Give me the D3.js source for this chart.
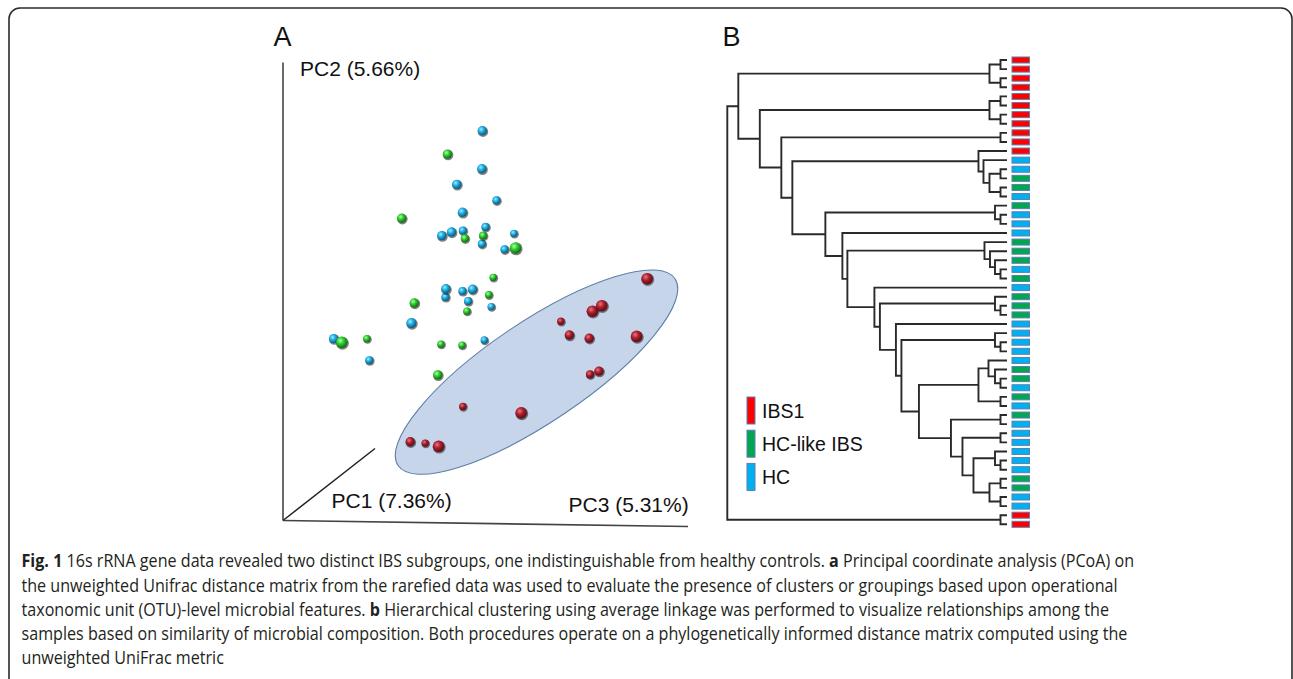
<!DOCTYPE html>
<html>
<head>
<meta charset="utf-8">
<script src="https://cdn.jsdelivr.net/npm/d3@7/dist/d3.min.js"></script>
<style>
  html, body { margin: 0; padding: 0; background: #fff; }
  svg { display: block; }
</style>
</head>
<body>
<div id="figure"></div>
<script>
// PCoA (panel A): projected position [u, v] in arbitrary units + depth (0 far .. 1 near)
const ibs1Points = [
  [89.9, 52.8, 1], [76.4, 45.7, 1], [78.7, 46.9, 1], [68.6, 43.5, 0.15],
  [70.7, 40.5, 0.55], [75.6, 39.8, 0.55], [87.3, 40.2, 1], [75.8, 31.9, 0.3],
  [78.0, 32.6, 0.55], [44.4, 24.9, 0.15], [58.8, 23.5, 1], [31.4, 17.2, 0.55],
  [35.1, 16.9, 0.15], [38.4, 16.2, 1]
];
const hcLikePoints = [
  [40.6, 80.0, 0.55], [29.3, 66.0, 0.55], [44.9, 61.6, 0.3], [49.4, 62.2, 0.3],
  [57.4, 59.5, 1], [51.9, 53.1, 0.15], [50.8, 49.3, 0.15], [45.4, 45.7, 0.15],
  [32.4, 47.5, 0.55], [14.5, 38.9, 1], [20.7, 39.7, 0.15], [39.0, 38.5, 0.15],
  [44.2, 38.3, 0.15], [38.2, 31.8, 0.55]
];
const hcPoints = [
  [49.2, 85.1, 0.55], [49.1, 76.8, 0.55], [42.9, 73.4, 0.55], [52.7, 69.9, 0.3],
  [44.3, 67.3, 0.55], [50.0, 64.1, 0.3], [39.2, 62.2, 0.55], [41.6, 63.0, 0.55],
  [44.4, 63.3, 0.3], [57.0, 62.7, 0.15], [49.1, 60.4, 0.3], [54.7, 59.2, 0.3],
  [40.2, 50.6, 0.55], [40.1, 48.8, 0.3], [44.3, 50.1, 0.3], [46.8, 50.5, 0.55],
  [45.7, 47.9, 0.3], [51.4, 46.7, 0.15], [31.7, 43.1, 0.7], [12.5, 39.7, 0.55],
  [21.3, 35.0, 0.3], [49.7, 39.4, 0.15]
];
// IBS1 cluster ellipse centre [u, v]
const clusterCentre = [62.6, 32.4];
const axisLabels = ["PC2 (5.66%)", "PC1 (7.36%)", "PC3 (5.31%)"];

// Dendrogram (panel B): leaf groups top to bottom, R = IBS1, G = HC-like IBS, B = HC
const leafGroups = [
  "R", "R", "R", "R", "R", "R", "R", "R", "R", "R", "R",
  "B", "B", "G", "G", "B", "G", "B", "B", "B", "G", "G", "G", "B", "G", "B",
  "G", "G", "G", "B", "B", "B", "B", "B", "G", "G", "B", "G", "B", "G", "B",
  "B", "B", "B", "B", "B", "G", "G", "B", "B", "R", "R"
];
// merges: [height, left, right], leaves are indices into leafGroups
const clusterA = [0.035, [0.013, 0, 1], [0.013, 2, 3]];
const clusterB = [0.035, [0.013, 4, 5], [0.013, 6, 7]];
const clusterC = [0.057, 10, [0.047, 11, [0.035, [0.013, 12, 13], [0.013, 14, 15]]]];
const clusterD = [0.024, 16, [0.013, 17, 18]];
const clusterE = [0.045, 20, [0.034, 21, [0.024, 22, [0.013, 23, 24]]]];
const clusterF = [0.024, 26, [0.013, 27, 28]];
const clusterG = [0.024, 30, [0.013, 31, 32]];
const clusterH = [0.057, [0.037, 33, [0.024, 34, [0.013, 35, 36]]], [0.013, 37, 38]];
const clusterI = [0.112, [0.013, 39, 40],
  [0.089, [0.013, 41, 42], [0.067, [0.024, 43, [0.013, 44, 45]], [0.035, [0.013, 46, 47], [0.013, 48, 49]]]]];
const treeMerges =
  [0.559,
    [0.537, clusterA,
      [0.494, clusterB,
        [0.451, [0.013, 8, 9],
          [0.429, clusterC,
            [0.363, clusterD,
              [0.329, 19,
                [0.319, clusterE,
                  [0.265, 25,
                    [0.254, clusterF,
                      [0.222, 29,
                        [0.211, clusterG,
                          [0.176, clusterH, clusterI]]]]]]]]]]]],
    [0.013, 50, 51]];

const groupNames = ["IBS1", "HC-like IBS", "HC"];
const groupKeys = ["R", "G", "B"];

const captionLines = [
  [["Fig. 1", true], [" 16s rRNA gene data revealed two distinct IBS subgroups, one indistinguishable from healthy controls. ", false], ["a", true], [" Principal coordinate analysis (PCoA) on", false]],
  [["the unweighted Unifrac distance matrix from the rarefied data was used to evaluate the presence of clusters or groupings based upon operational", false]],
  [["taxonomic unit (OTU)-level microbial features. ", false], ["b", true], [" Hierarchical clustering using average linkage was performed to visualize relationships among the", false]],
  [["samples based on similarity of microbial composition. Both procedures operate on a phylogenetically informed distance matrix computed using the", false]],
  [["unweighted UniFrac metric", false]]
];

const W = 1293, H = 679;
const FONT = "'Liberation Sans', Arial, sans-serif";

const svg = d3.select("#figure").append("svg")
  .attr("width", W)
  .attr("height", H);

// outer frame
svg.append("rect")
  .attr("x", 9).attr("y", 8)
  .attr("width", 1283).attr("height", 690)
  .attr("rx", 11)
  .attr("fill", "none")
  .attr("stroke", "#2b2b2b")
  .attr("stroke-width", 1.6);

const sphereColors = {
  R: ["#e27a85", "#b01f2e", "#5c0a14"],
  G: ["#b4ffb0", "#2dcc2d", "#0e6a10"],
  B: ["#a6e8ff", "#1cb0e6", "#0a5878"]
};

const defs = svg.append("defs");
Object.entries(sphereColors).forEach(([k, c]) => {
  const grad = defs.append("radialGradient")
    .attr("id", "sphere-" + k)
    .attr("cx", "38%").attr("cy", "35%").attr("r", "65%");
  grad.append("stop").attr("offset", "0%").attr("stop-color", c[0]);
  grad.append("stop").attr("offset", "45%").attr("stop-color", c[1]);
  grad.append("stop").attr("offset", "100%").attr("stop-color", c[2]);
});

// ---------- panel A ----------
const px = d3.scaleLinear().domain([0, 100]).range([283, 688]);
const py = d3.scaleLinear().domain([0, 100]).range([520.5, 62.5]);
const pr = d3.scaleLinear().domain([0, 1]).range([3.3, 5.8]);

const gA = svg.append("g");

gA.append("text")
  .attr("x", 273.5).attr("y", 46)
  .style("font-family", FONT).style("font-size", "27px")
  .attr("fill", "#111")
  .text("A");

const origin = [px(0), py(0)];
gA.append("line")
  .attr("x1", origin[0]).attr("y1", origin[1])
  .attr("x2", px(0)).attr("y2", py(100))
  .attr("stroke", "#444").attr("stroke-width", 1.6);
gA.append("line")
  .attr("x1", origin[0]).attr("y1", origin[1])
  .attr("x2", px(100)).attr("y2", origin[1] + 6)
  .attr("stroke", "#444").attr("stroke-width", 1.6);
gA.append("line")
  .attr("x1", origin[0]).attr("y1", origin[1])
  .attr("x2", origin[0] + 92).attr("y2", origin[1] - 72)
  .attr("stroke", "#222").attr("stroke-width", 1.5);

const labelPos = [[300, 76], [331.5, 507.5], [568.5, 511.5]];
axisLabels.forEach((t, idx) => {
  gA.append("text")
    .attr("x", labelPos[idx][0]).attr("y", labelPos[idx][1])
    .style("font-family", FONT).style("font-size", "21px")
    .attr("fill", "#111")
    .text(t);
});

gA.append("ellipse")
  .attr("transform", `translate(${px(clusterCentre[0])},${py(clusterCentre[1])}) rotate(-34)`)
  .attr("rx", 167).attr("ry", 50)
  .attr("fill", "#c6d5ea")
  .attr("stroke", "#5d7ea6")
  .attr("stroke-width", 1.1);

const allPoints = []
  .concat(hcPoints.map((d) => ({ u: d[0], v: d[1], z: d[2], g: "B" })))
  .concat(hcLikePoints.map((d) => ({ u: d[0], v: d[1], z: d[2], g: "G" })))
  .concat(ibs1Points.map((d) => ({ u: d[0], v: d[1], z: d[2], g: "R" })))
  .sort((a, b) => a.z - b.z);

const dots = gA.selectAll("g.dot").data(allPoints).enter()
  .append("g").attr("class", "dot")
  .attr("transform", (d) => `translate(${px(d.u)},${py(d.v)})`);

dots.append("circle")
  .attr("cx", 0.7).attr("cy", 0.9)
  .attr("r", (d) => pr(d.z) + 0.6)
  .attr("fill", "#1a1a1a")
  .attr("opacity", 0.55);

dots.append("circle")
  .attr("r", (d) => pr(d.z))
  .attr("fill", (d) => `url(#sphere-${d.g})`);

// ---------- panel B ----------
const gB = svg.append("g");

gB.append("text")
  .attr("x", 722.5).attr("y", 46)
  .style("font-family", FONT).style("font-size", "27px")
  .attr("fill", "#111")
  .text("B");

const ly = d3.scaleLinear().domain([0, leafGroups.length - 1]).range([60, 524.3]);
const hx = d3.scaleLinear().domain([0, 0.559]).range([1007, 727.3]);

function toNode(m) {
  if (typeof m === "number") return { leaf: m, height: 0 };
  return { height: m[0], children: [toNode(m[1]), toNode(m[2])] };
}

const root = d3.hierarchy(toNode(treeMerges));
root.eachAfter((d) => {
  d.px = hx(d.data.height);
  d.py = d.children ? d3.mean(d.children, (c) => c.py) : ly(d.data.leaf);
});

gB.selectAll("path.branch")
  .data(root.descendants().filter((d) => d.children))
  .enter().append("path")
  .attr("class", "branch")
  .attr("d", (d) => {
    const [a, b] = d.children;
    return `M${a.px},${a.py}H${d.px}V${b.py}H${b.px}`;
  })
  .attr("fill", "none")
  .attr("stroke", "#2a2a2a")
  .attr("stroke-width", 1.9);

const fillColors = { R: "#ff0000", G: "#00a650", B: "#00b0f0" };
const edgeColor = "#5b7fae";

gB.selectAll("rect.leaf")
  .data(leafGroups)
  .enter().append("rect")
  .attr("class", "leaf")
  .attr("x", 1012)
  .attr("y", (d, i) => ly(i) - 3)
  .attr("width", 17.5)
  .attr("height", 6)
  .attr("fill", (d) => fillColors[d])
  .attr("stroke", edgeColor)
  .attr("stroke-width", 1);

// legend
const legend = gB.append("g");
groupKeys.forEach((k, idx) => {
  const y0 = 397 + idx * 33.2;
  legend.append("rect")
    .attr("x", 747).attr("y", y0)
    .attr("width", 8).attr("height", 27)
    .attr("fill", fillColors[k])
    .attr("stroke", edgeColor)
    .attr("stroke-width", 1);
  legend.append("text")
    .attr("x", 762).attr("y", y0 + 20.5)
    .style("font-family", FONT).style("font-size", "19.5px")
    .attr("fill", "#111")
    .text(groupNames[idx]);
});

// ---------- caption ----------
// the original uses a condensed face; squeeze every line by the same factor
const cap = svg.append("g");
const capLines = captionLines.map((parts, idx) => {
  const line = cap.append("g");
  const t = line.append("text")
    .attr("x", 0).attr("y", 0)
    .style("font-family", "'Open Sans', 'Noto Sans', sans-serif")
    .style("font-size", "18px")
    .attr("fill", "#231f20");
  parts.forEach((p) => {
    t.append("tspan")
      .style("font-weight", p[1] ? "bold" : "normal")
      .text(p[0]);
  });
  return { line, t, idx };
});
const firstWidth = capLines[0].t.node().getComputedTextLength();
const squeeze = 1113 / firstWidth;
capLines.forEach((c) => {
  c.line.attr("transform", `translate(21.5,${567.3 + c.idx * 24.2}) scale(${squeeze},1)`);
});
</script>
</body>
</html>
